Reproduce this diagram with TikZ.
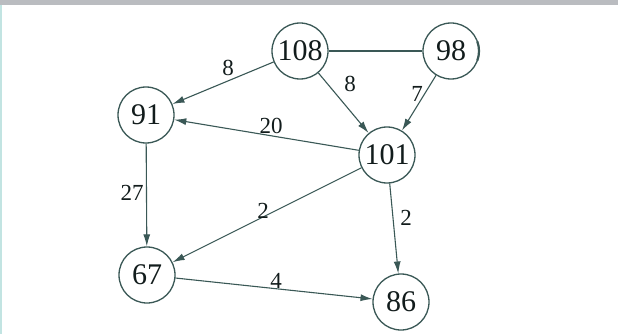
\documentclass[tikz,border=0pt]{standalone}
\usepackage{fontspec}
\setmainfont{Liberation Serif}
\usetikzlibrary{arrows.meta}
\definecolor{ln}{RGB}{58,88,86}
\definecolor{tx}{RGB}{18,28,28}
\definecolor{topband}{RGB}{186,188,192}
\definecolor{leftband}{RGB}{194,228,226}
\begin{document}
\begin{tikzpicture}[x=1pt,y=-1pt,
  vtx/.style={circle,draw=ln,line width=1.3pt,minimum size=56pt,inner sep=0pt,text=tx,font=\fontsize{30}{30}\selectfont},
  lbl/.style={text=tx,inner sep=0pt,font=\fontsize{23}{23}\selectfont},
  arr/.style={draw=ln,line width=1.1pt,-{Latex[length=12pt,width=7pt]}},
  plain/.style={draw=ln,line width=1.1pt}]
\fill[white] (0,0) rectangle (618,334);
\useasboundingbox (0,0) rectangle (618,334);
\fill[topband] (0,0) rectangle (618,5);
\fill[leftband] (0,5) rectangle (2,334);
\node[vtx] (n108) at (300,51) {108};
\node[vtx] (n98) at (451,51) {98};
\node[vtx] (n91) at (146,115) {91};
\node[vtx] (n101) at (387,155) {101};
\node[vtx] (n67) at (147,275) {67};
\node[vtx] (n86) at (401,302) {86};
\draw[ln,line width=2.2pt] (n98.center) ++(-20:28) arc[start angle=-20,end angle=20,radius=28];
\draw[plain] (n108) -- (n98);
\draw[arr] (n108) -- (n91);
\draw[arr] (n108) -- (n101);
\draw[arr] (n98) -- (n101);
\draw[arr] (n101) -- (n91);
\draw[arr] (n91) -- (n67);
\draw[arr] (n101) -- (n67);
\draw[arr] (n101) -- (n86);
\draw[arr] (n67) -- (n86);
\node[lbl] (l1) at (228,68) {8};
\node[lbl] (l2) at (350,84) {8};
\node[lbl] (l3) at (417,94) {7};
\node[lbl] (l4) at (271,126) {20};
\node[lbl] (l5) at (132,193) {27};
\node[lbl] (l6) at (263,211) {2};
\node[lbl] (l7) at (406,218) {2};
\node[lbl] (l8) at (276,281) {4};
\end{tikzpicture}
\end{document}
